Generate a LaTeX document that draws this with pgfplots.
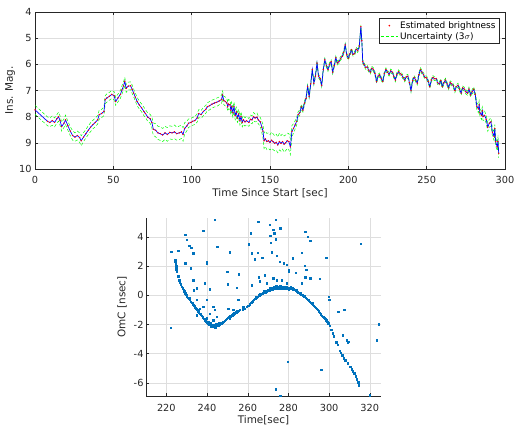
\documentclass[border=0pt]{standalone}
\usepackage{pgfplots}
\pgfplotsset{compat=1.18}
\usepackage{pgfplotstable}
\usepackage{fontspec}
\setmainfont{DejaVu Sans}
\definecolor{mblue}{rgb}{0,0.447,0.741}
\definecolor{axgray}{gray}{0.15}
\definecolor{gridgray}{gray}{0.87}

\pgfplotstableread{
t m u
0 7.74 0.17
8 8.18 0.17
9.5 8.22 0.16
11 8.15 0.18
12.5 8.22 0.17
14 8.08 0.16
15 8.00 0.17
16 8.15 0.18
17 8.38 0.17
18.5 8.25 0.16
19.5 8.12 0.18
21 8.35 0.17
22.5 8.55 0.17
24 8.72 0.18
25.5 8.78 0.16
27 8.72 0.17
28.5 8.80 0.18
29.5 8.92 0.19
31 8.78 0.17
32.5 8.65 0.16
34 8.52 0.17
35.5 8.40 0.17
37 8.30 0.16
38.5 8.22 0.17
40 8.12 0.16
41 7.92 0.17
42.5 7.88 0.16
44 7.80 0.16
44.8 7.35 0.15
46 7.28 0.16
47.5 7.22 0.15
49 7.15 0.15
50.5 7.20 0.16
51.5 7.42 0.15
53 7.28 0.15
54.5 7.15 0.15
55.5 6.98 0.16
56.5 6.82 0.15
57.3 6.65 0.15
58.2 6.92 0.15
59.5 6.83 0.15
61 6.82 0.15
62 6.95 0.16
63 7.10 0.15
64 7.25 0.15
65.2 7.42 0.16
66.5 7.55 0.15
68 7.66 0.15
69.5 7.80 0.16
70.5 7.88 0.15
72 8.02 0.16
73.5 8.08 0.17
74.6 8.22 0.20
75.5 8.48 0.24
77 8.52 0.25
78.5 8.62 0.25
80 8.65 0.26
81.5 8.70 0.25
83 8.62 0.25
84.5 8.68 0.26
86 8.60 0.25
87.5 8.62 0.25
89 8.58 0.26
90.5 8.65 0.25
92 8.62 0.26
93.5 8.58 0.25
94.5 8.68 0.26
95.5 8.45 0.22
97 8.35 0.18
98 8.25 0.16
99.5 8.22 0.15
100.5 8.18 0.15
102 8.15 0.15
103.5 8.05 0.16
104.5 7.88 0.15
106 7.92 0.15
107.5 7.80 0.16
109 7.72 0.15
110 7.62 0.15
111.5 7.58 0.16
113 7.52 0.15
114.5 7.48 0.15
116 7.45 0.16
117.5 7.40 0.15
119 7.35 0.16
119.7 7.17 0.15
120.5 7.38 0.16
121.5 7.42 0.17
122.5 7.48 0.16
123 7.62 0.17
123.5 7.52 0.18
124.5 7.55 0.17
125 7.75 0.18
125.5 7.62 0.18
126.3 7.85 0.17
127 7.62 0.18
127.8 7.95 0.17
128.5 7.82 0.18
129.2 8.05 0.17
130 7.90 0.18
130.8 8.15 0.17
131.5 8.00 0.18
132.3 8.22 0.17
133 8.12 0.17
134 8.20 0.16
135 8.15 0.16
136.5 8.22 0.15
137.5 8.10 0.16
138.5 8.12 0.15
139.5 8.00 0.16
140.5 8.05 0.15
141.7 8.02 0.16
142.5 8.12 0.15
143.8 8.20 0.17
144.8 8.40 0.22
145.5 8.55 0.26
146.2 8.92 0.30
147 8.85 0.29
148 8.95 0.31
149 8.92 0.30
150 8.98 0.29
151 8.90 0.31
152 8.96 0.30
153 9.02 0.29
154 8.98 0.31
155 9.08 0.30
156 8.95 0.32
157 9.02 0.30
158 8.95 0.29
159 9.05 0.31
160 9.00 0.30
161 8.92 0.29
162 8.95 0.31
163 9.15 0.30
164 8.56 0.22
165 8.45 0.18
166 8.32 0.16
167 8.18 0.14
168 7.92 0.12
169 7.85 0.10
170 7.62 0.09
171 7.75 0.08
172 7.48 0.08
173 7.30 0.07
174 6.85 0.07
175 7.22 0.07
176 6.75 0.07
177 6.20 0.07
178 6.72 0.07
179 6.45 0.07
180 5.95 0.07
181 6.45 0.07
182 6.55 0.07
183 6.80 0.07
184 6.20 0.07
185 5.83 0.07
186 6.05 0.07
187 6.20 0.07
188 6.00 0.07
189 5.90 0.07
190 6.30 0.07
191 6.05 0.07
192 5.75 0.07
193 5.95 0.07
194 5.90 0.07
195 5.78 0.07
196 5.70 0.07
197 5.55 0.07
198 5.26 0.07
199 5.64 0.07
200 5.77 0.07
201 5.60 0.07
202 5.45 0.07
203 5.62 0.07
204 5.58 0.07
205 5.42 0.07
206 5.48 0.07
207 5.30 0.07
208 4.56 0.07
208.6 5.10 0.07
209.2 5.90 0.07
210 6.00 0.07
211 6.12 0.07
212 6.10 0.07
213 6.22 0.07
214 6.30 0.07
215 6.15 0.07
216 6.20 0.07
217 6.35 0.07
218 6.66 0.07
219 6.45 0.07
220 6.40 0.07
221 6.55 0.07
222 6.65 0.07
223 6.35 0.07
224 6.20 0.07
225 6.30 0.07
226 6.38 0.07
227 6.25 0.07
228 6.30 0.07
229 6.45 0.07
230 6.60 0.07
231 6.38 0.07
232 6.28 0.07
233 6.35 0.07
234 6.40 0.07
235 6.50 0.07
236 6.60 0.07
237 6.48 0.07
238 6.45 0.07
239 6.70 0.07
240 7.00 0.07
241 6.62 0.07
242 6.50 0.07
243 6.60 0.07
244 6.72 0.07
245 6.40 0.07
246 6.20 0.07
247 6.30 0.07
248 6.40 0.07
249 6.50 0.07
250 6.52 0.07
251 6.65 0.07
252 6.85 0.07
253 6.60 0.07
254 6.50 0.07
255 6.55 0.07
256 6.55 0.07
257 6.70 0.07
258 6.75 0.07
259 6.62 0.07
260 6.85 0.07
261 6.70 0.07
262 6.60 0.07
263 6.75 0.07
264 6.90 0.07
265 6.70 0.07
266 6.75 0.07
267 6.82 0.07
268 7.00 0.08
269 6.85 0.07
270 6.80 0.08
271 6.95 0.07
272 7.10 0.08
273 6.90 0.07
274 6.95 0.08
275 7.05 0.08
276 7.10 0.08
277 6.95 0.08
278 7.17 0.08
279 7.05 0.08
280 6.95 0.09
281 7.15 0.10
282 7.60 0.13
283 7.70 0.15
283.5 7.55 0.15
284 7.85 0.15
285 7.95 0.16
285.5 7.78 0.15
286 8.00 0.15
287 7.95 0.16
288 8.10 0.15
289 8.40 0.16
290 8.25 0.15
291 8.20 0.16
292 8.60 0.15
293 8.75 0.16
293.5 8.45 0.15
294 8.95 0.16
295 9.15 0.15
295.5 8.95 0.16
296 9.40 0.17
}\lc

\pgfplotstableread{
t v
224.3 2.45
224.4 2.35
224.5 2.25
224.6 2.10
224.7 2.00
224.8 1.90
224.9 1.80
225.0 1.70
225.1 1.62
224.6 2.30
224.8 2.05
224.5 2.40
225.0 1.78
225.8 1.30
226.3 1.05
226.7 0.90
227.1 0.75
227.6 0.60
228.0 0.50
228.4 0.38
228.8 0.28
229.2 0.15
229.7 0.05
230.1 -0.05
230.6 -0.15
231.0 -0.25
231.5 -0.32
232.0 -0.42
232.4 -0.50
232.9 -0.60
233.3 -0.68
233.8 -0.75
234.2 -0.85
234.7 -0.92
235.1 -1.00
235.6 -1.08
236.0 -1.15
236.5 -1.25
237.0 -1.32
237.4 -1.40
237.9 -1.50
238.4 -1.60
238.9 -1.70
239.3 -1.78
239.8 -1.85
240.2 -1.90
240.6 -1.95
241.0 -1.98
241.4 -2.00
241.8 -2.05
242.2 -2.08
242.6 -2.10
243.0 -2.12
243.4 -2.10
243.8 -2.12
244.2 -2.08
244.6 -2.10
245.0 -2.05
245.4 -2.08
245.8 -2.02
246.2 -2.00
246.8 -1.95
247.3 -1.90
247.8 -1.85
248.3 -1.80
248.8 -1.72
249.3 -1.68
249.8 -1.60
250.3 -1.55
250.8 -1.50
251.3 -1.45
251.8 -1.40
252.3 -1.35
252.8 -1.30
253.3 -1.25
253.8 -1.20
254.3 -1.15
254.8 -1.10
255.3 -1.05
256.0 -1.00
257.5 -0.95
258.5 -0.90
259.5 -0.80
260.3 -0.70
261.0 -0.60
261.8 -0.50
262.5 -0.40
263.0 -0.32
263.5 -0.25
264.0 -0.20
264.5 -0.12
265.0 -0.08
265.5 0.00
266.0 0.02
266.5 0.08
267.0 0.12
267.5 0.15
268.0 0.20
268.5 0.22
269.0 0.25
269.5 0.30
270.0 0.32
270.5 0.35
271.0 0.38
271.5 0.40
272.0 0.42
272.5 0.45
273.0 0.48
273.5 0.50
274.0 0.52
274.5 0.50
275.0 0.55
275.5 0.52
276.0 0.55
276.5 0.50
277.0 0.52
277.5 0.55
278.0 0.50
278.5 0.52
279.0 0.48
279.5 0.50
280.0 0.52
280.5 0.48
281.0 0.50
281.5 0.45
282.0 0.50
282.5 0.42
283.0 0.38
283.5 0.32
284.0 0.28
284.5 0.22
285.0 0.18
285.5 0.12
286.0 0.08
286.5 0.05
287.0 0.00
287.5 -0.05
288.0 -0.10
288.5 -0.15
289.0 -0.22
289.5 -0.30
290.0 -0.38
290.5 -0.45
291.0 -0.50
291.5 -0.58
292.0 -0.62
292.5 -0.70
293.0 -0.78
293.5 -0.85
294.0 -0.92
294.5 -1.00
295.0 -1.10
295.5 -1.20
296.0 -1.28
296.5 -1.38
297.0 -1.45
297.5 -1.55
298.0 -1.62
298.5 -1.70
299.0 -1.80
299.5 -1.90
300.2 -2.10
301.0 -2.35
301.7 -2.60
302.2 -2.80
303.5 -3.20
304.2 -3.40
305.2 -3.80
305.8 -3.95
306.5 -4.10
307.3 -4.30
308.0 -4.45
309.0 -4.65
310.3 -4.90
311.0 -5.05
311.6 -5.20
312.3 -5.35
313.0 -5.55
313.6 -5.75
314.2 -5.95
314.6 -6.15
240.5 -1.85
241.5 -1.92
242.5 -2.00
243.5 -2.02
244.5 -1.98
242.0 -2.15
244.0 -2.18
246.0 -1.92
251.0 -1.40
253.0 -1.18
255.0 -1.12
262.0 -0.42
264.0 -0.10
266.0 0.10
268.0 0.28
270.0 0.40
271.0 0.48
272.0 0.52
273.0 0.58
274.0 0.62
275.0 0.45
276.0 0.62
277.0 0.45
278.0 0.60
279.0 0.58
280.0 0.42
281.0 0.58
282.0 0.40
284.0 0.35
286.0 0.15
288.0 -0.05
290.0 -0.30
292.0 -0.55
231.0 -0.18
233.0 -0.55
235.0 -0.92
237.0 -1.25
239.0 -1.62
}\omcmain

\pgfplotstableread{
t v
222.0 -2.20
222.3 3.00
225.8 3.06
229.2 4.16
229.9 3.80
231.2 3.40
232.3 3.27
233.2 2.90
229.2 2.20
232.0 1.87
238.1 4.43
239.8 2.30
239.9 2.18
243.7 5.17
245.0 3.34
251.2 2.95
249.9 1.62
255.7 1.46
250.1 0.75
254.5 0.54
241.4 0.43
238.9 0.82
234.8 0.48
233.2 1.05
233.5 0.36
231.5 -0.21
234.8 -0.32
239.7 -0.32
238.1 -0.78
243.0 -0.78
243.8 -1.00
241.4 -1.24
244.7 -1.47
239.7 -1.58
243.0 -1.70
250.4 -0.90
252.9 -1.00
255.4 -0.28
253.7 -1.24
251.2 -1.58
257.8 -0.78
234.8 -1.35
236.4 -0.90
260.6 3.50
261.4 4.25
261.9 2.88
263.3 2.47
265.2 5.03
264.9 2.92
267.2 2.58
270.7 4.85
271.0 4.10
271.4 3.60
272.6 4.50
273.6 5.17
273.1 4.25
273.8 3.84
271.8 2.95
274.3 2.70
275.9 4.60
275.6 2.30
277.6 2.20
279.2 2.10
280.2 1.74
282.2 2.54
283.7 1.57
286.4 2.92
287.9 2.05
288.3 4.34
289.6 4.02
290.7 3.75
288.8 1.74
290.7 1.16
298.6 2.58
295.3 1.12
268.2 1.39
265.4 1.23
261.9 0.70
266.0 0.96
269.3 0.82
272.6 1.16
274.3 1.05
276.7 1.05
279.2 0.82
286.6 0.82
288.3 1.23
280.0 1.60
299.8 -0.10
300.1 -0.28
304.5 -1.13
307.5 -0.97
306.8 -2.73
308.5 -3.07
309.6 -3.19
309.1 -3.25
296.2 -5.08
279.5 -4.56
320.0 -6.85
275.9 -6.88
273.8 -6.43
324.4 -1.97
323.3 -3.07
315.4 3.54
}\omcout

\pgfplotsset{
  mystyle/.style={
    scale only axis,
    grid=major,
    grid style={gridgray, line width=0.4pt},
    axis line style={axgray, line width=0.5pt},
    tick align=inside,
    major tick length=3bp,
    tick style={axgray, line width=0.4pt},
    tick label style={font=\fontsize{9.8}{11}\selectfont, text=axgray},
    /pgf/number format/assume math mode=true,
    label style={font=\fontsize{10.5}{12}\selectfont, text=axgray},
  }
}

\begin{document}
\begin{tikzpicture}
\useasboundingbox (3bp,0) rectangle (518bp,432bp);
\begin{axis}[mystyle,
  at={(38bp,263bp)}, anchor=south west,
  width=470bp, height=157bp,
  xmin=0, xmax=300, ymin=4, ymax=10, y dir=reverse,
  xtick={0,50,...,300}, ytick={4,5,...,10},
  xticklabel style={yshift=-3.5bp},
  xlabel={Time Since Start [sec]},
  ylabel={Ins. Mag.},
  xlabel style={at={(axis description cs:0.5,-0.153)}, anchor=center},
  ylabel style={at={(axis description cs:-0.053,0.5)}, anchor=center},
  legend style={at={(1,1)}, anchor=north east, xshift=-6bp, yshift=-6bp,
    font=\fontsize{9}{10}\selectfont, draw=axgray, line width=0.5pt,
    inner sep=1.2bp, row sep=-1.5bp, text=black, fill=white},
  legend cell align=left,
]
\addplot[green, dash pattern=on 3bp off 2bp, line width=0.5pt, forget plot] table[x=t, y expr=\thisrow{m}-\thisrow{u}] {\lc};
\addplot[green, dash pattern=on 3bp off 2bp, line width=0.5pt, forget plot] table[x=t, y expr=\thisrow{m}+\thisrow{u}] {\lc};
\addplot[blue, line width=0.7pt, forget plot] table[x=t, y=m] {\lc};
\addplot[only marks, mark=*, mark size=0.45bp, red, forget plot] table[x=t, y=m] {\lc};
\addlegendimage{only marks, mark=*, mark size=0.6bp, red}
\addlegendentry{Estimated brightness}
\addlegendimage{green, dash pattern=on 3bp off 2bp, line width=0.5pt}
\addlegendentry{Uncertainty (3$\sigma$)}
\end{axis}

\begin{axis}[mystyle,
  at={(149bp,36bp)}, anchor=south west,
  width=235bp, height=178bp,
  xmin=210, xmax=325.5, ymin=-6.9, ymax=5.3,
  axis x line*=bottom, axis y line*=left,
  every outer x axis line/.append style={-},
  every outer y axis line/.append style={-},
  xtick={220,240,...,320}, ytick={-6,-4,...,4},
  xticklabel style={yshift=-5bp},
  yticklabel style={xshift=1bp},
  xlabel={Time[sec]},
  ylabel={OmC [nsec]},
  xlabel style={at={(axis description cs:0.5,-0.135)}, anchor=center},
  ylabel style={at={(axis description cs:-0.102,0.5)}, anchor=center},
]
\addplot[only marks, mark=square*, mark size=0.7bp, mblue] table[x=t, y=v] {\omcmain};
\addplot[only marks, mark=square*, mark size=0.7bp, mblue] table[x=t, y=v] {\omcout};
\end{axis}
\end{tikzpicture}
\end{document}
